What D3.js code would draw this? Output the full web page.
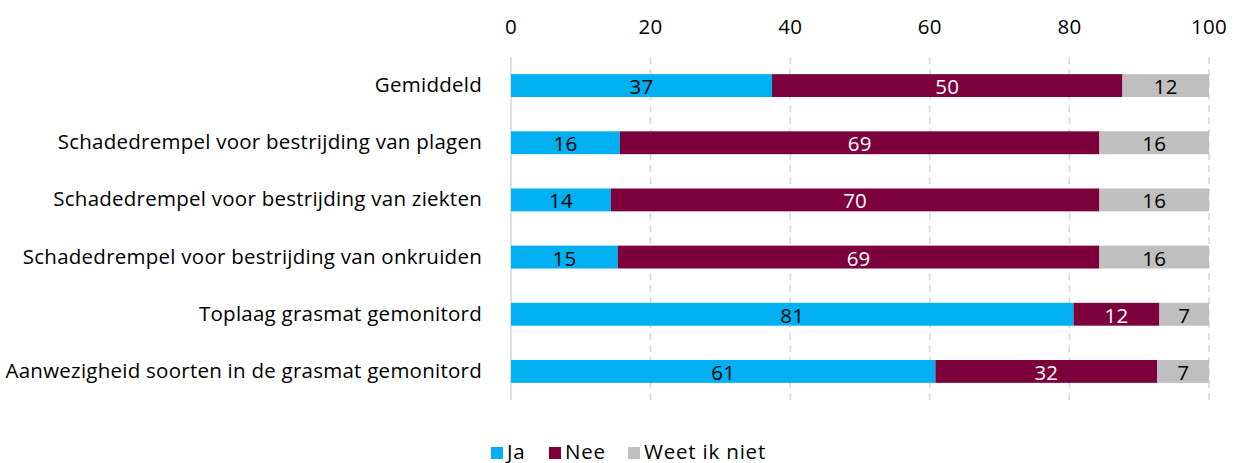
<!DOCTYPE html>
<html>
<head>
<meta charset="utf-8">
<script src="https://cdn.jsdelivr.net/npm/d3@7"></script>
<style>
  body { margin: 0; background: #fff; }
  text { font-family: "Open Sans", Lato, sans-serif; letter-spacing: 0.25px; }
  .legend text { letter-spacing: 0.8px; }
</style>
</head>
<body>
<svg id="chart" width="1238" height="463"></svg>
<script>
const categories = [
    'Gemiddeld',
    'Schadedrempel voor bestrijding van plagen',
    'Schadedrempel voor bestrijding van ziekten',
    'Schadedrempel voor bestrijding van onkruiden',
    'Toplaag grasmat gemonitord',
    'Aanwezigheid soorten in de grasmat gemonitord'
];
const seriesNames = ['Ja', 'Nee', 'Weet ik niet'];
const ja = [37.4, 15.6, 14.3, 15.3, 80.6, 60.8];
const nee = [50.2, 68.7, 70.0, 69.0, 12.3, 31.8];
const weet = [12.4, 15.7, 15.7, 15.7, 7.1, 7.4];
const xTicks = [0, 20, 40, 60, 80, 100];

const colors = ['#00B0F0', '#7B003C', '#BFBFBF'];
const labelColors = ['#000', '#fff', '#000'];
const fontSize = 20.5;

const svg = d3.select('#chart');
const margin = {left: 511, right: 29, top: 57, bottom: 63};
const width = 1238, height = 463;

const x = d3.scaleLinear().domain([0, 100]).range([margin.left, width - margin.right]);
const y = d3.scaleBand().domain(categories).range([margin.top, height - margin.bottom]).paddingInner(0.6).paddingOuter(0.3);

// grid lines (0 line solid, rest dashed)
svg.append('g')
    .selectAll('line')
    .data(xTicks)
    .join('line')
    .attr('x1', d => x(d))
    .attr('x2', d => x(d))
    .attr('y1', margin.top)
    .attr('y2', height - margin.bottom)
    .attr('stroke', '#d9d9d9')
    .attr('stroke-width', 1.6)
    .attr('stroke-dasharray', d => d === 0 ? null : '7,5');

// top axis labels
svg.append('g')
    .selectAll('text')
    .data(xTicks)
    .join('text')
    .attr('x', d => x(d))
    .attr('y', 33.5)
    .attr('text-anchor', 'middle')
    .attr('font-size', fontSize)
    .attr('fill', '#000')
    .text(d => d);

// category labels
svg.append('g')
    .selectAll('text')
    .data(categories)
    .join('text')
    .attr('x', 482)
    .attr('y', d => y(d) + y.bandwidth() / 2 + 6.5)
    .attr('text-anchor', 'end')
    .attr('font-size', fontSize)
    .attr('fill', '#000')
    .text(d => d);

// stacked data
const rows = categories.map((c, i) => ({cat: c, Ja: ja[i], Nee: nee[i], 'Weet ik niet': weet[i]}));
const stacked = d3.stack().keys(seriesNames)(rows);

const groups = svg.append('g')
    .selectAll('g')
    .data(stacked)
    .join('g')
    .attr('fill', (d, i) => colors[i]);

groups.selectAll('rect')
    .data(d => d)
    .join('rect')
    .attr('x', d => x(d[0]))
    .attr('width', d => x(d[1]) - x(d[0]))
    .attr('y', d => y(d.data.cat))
    .attr('height', y.bandwidth());

svg.append('g')
    .selectAll('g')
    .data(stacked)
    .join('g')
    .attr('fill', (d, i) => labelColors[i])
    .selectAll('text')
    .data(d => d)
    .join('text')
    .attr('x', d => (x(d[0]) + x(d[1])) / 2)
    .attr('y', d => y(d.data.cat) + y.bandwidth() / 2 + 8.5)
    .attr('text-anchor', 'middle')
    .attr('font-size', fontSize)
    .text(d => Math.round(d[1] - d[0]));

// legend
const legendX = [491, 549, 628];
const legend = svg.append('g')
    .attr('class', 'legend')
    .selectAll('g')
    .data(seriesNames)
    .join('g')
    .attr('transform', (d, i) => `translate(${legendX[i]},453)`);

legend.append('rect')
    .attr('x', 0)
    .attr('y', -6)
    .attr('width', 12)
    .attr('height', 12)
    .attr('fill', (d, i) => colors[i]);

legend.append('text')
    .attr('x', 16)
    .attr('y', 5.5)
    .attr('font-size', fontSize)
    .attr('fill', '#000')
    .text(d => d);
</script>
</body>
</html>
